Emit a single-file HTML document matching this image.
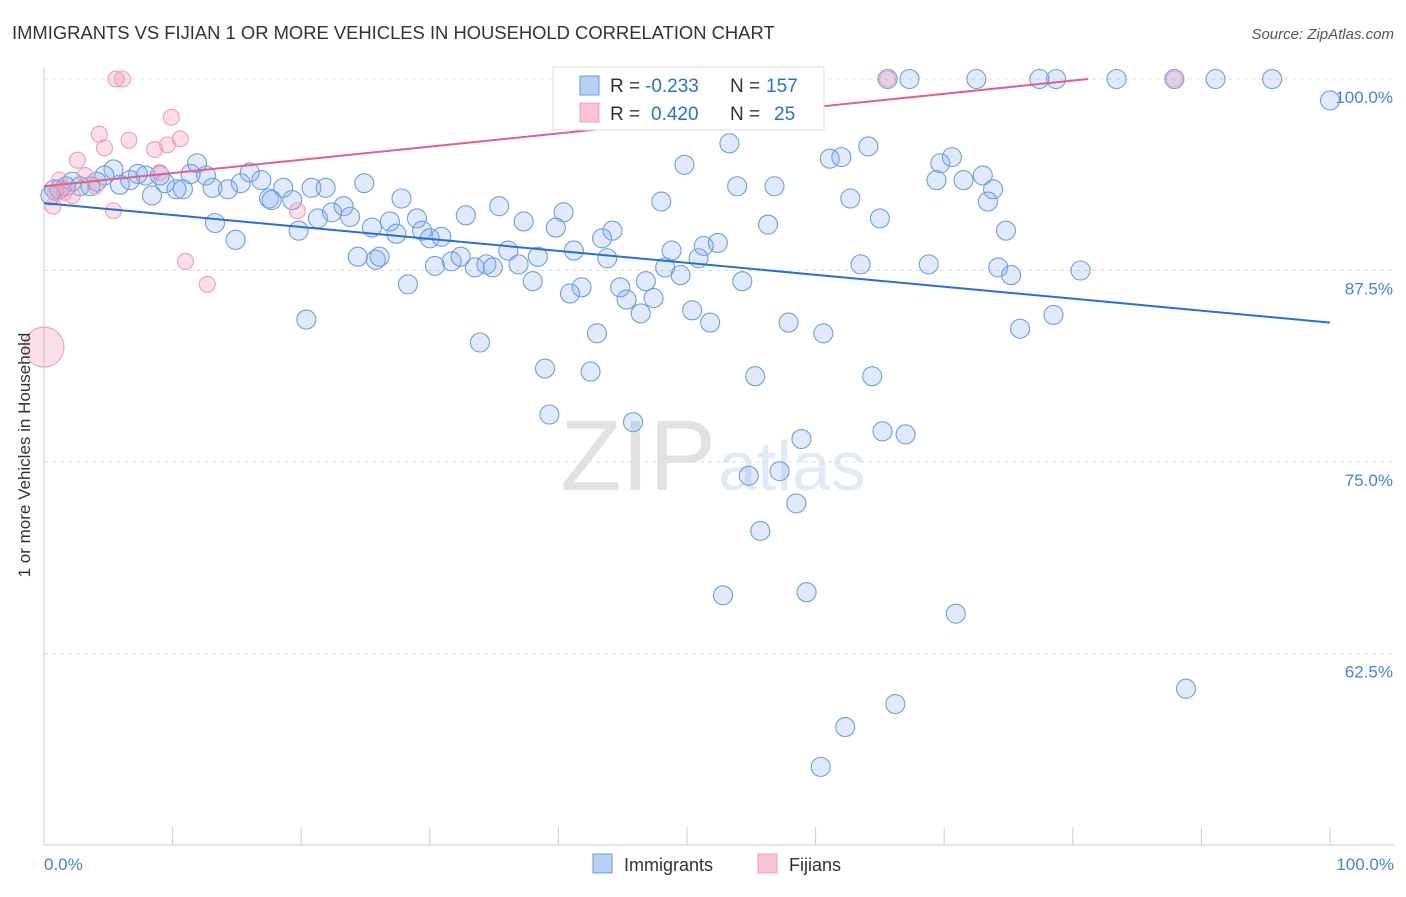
<!DOCTYPE html>
<html><head><meta charset="utf-8">
<style>
body{margin:0;background:#fff;font-family:"Liberation Sans",sans-serif;}
svg text{font-family:"Liberation Sans",sans-serif;}
</style></head>
<body>
<svg width="1406" height="892" viewBox="0 0 1406 892">
<text x="12" y="39" font-size="18.4" fill="#333">IMMIGRANTS VS FIJIAN 1 OR MORE VEHICLES IN HOUSEHOLD CORRELATION CHART</text>
<text x="1394" y="39" font-size="15" fill="#555" font-style="italic" text-anchor="end">Source: ZipAtlas.com</text>
<text x="716" y="490" font-size="100" fill="#e2e2e2" text-anchor="end" font-family="Liberation Serif">ZIP</text>
<text x="718" y="490" font-size="70" fill="#e2eaf6">atlas</text>
<g id="grid"></g>
<g id="axes"></g>
<g id="marks"></g>
<g id="lines"></g>
<text transform="translate(30,455) rotate(-90)" font-size="17" fill="#333" text-anchor="middle">1 or more Vehicles in Household</text>
<text x="44" y="870" font-size="17" fill="#4a7fd8">0.0%</text>
<text x="1394" y="870" font-size="17" fill="#4a7fd8" text-anchor="end">100.0%</text>
<g>
<rect x="553" y="67" width="271" height="63" fill="#fff" stroke="#ddd"/>
<rect x="580" y="76" width="19" height="19" fill="#b8d0f5" stroke="#6a9be0"/>
<rect x="580" y="103" width="19" height="19" fill="#f8c4d4" stroke="#f0a0b8"/>
<text x="610" y="92" font-size="19" fill="#333">R =</text>
<text x="645" y="92" font-size="19" fill="#2b6fd6">-0.233</text>
<text x="730" y="92" font-size="19" fill="#333">N =</text>
<text x="766" y="92" font-size="19" fill="#2b6fd6">157</text>
<text x="610" y="120" font-size="19" fill="#333">R =</text>
<text x="651" y="120" font-size="19" fill="#2b6fd6">0.420</text>
<text x="730" y="120" font-size="19" fill="#333">N =</text>
<text x="774" y="120" font-size="19" fill="#2b6fd6">25</text>
</g>
<g>
<rect x="593" y="854" width="19" height="19" fill="#b8d0f5" stroke="#6a9be0"/>
<text x="624" y="871" font-size="18" fill="#333">Immigrants</text>
<rect x="758" y="854" width="19" height="19" fill="#f8c4d4" stroke="#f0a0b8"/>
<text x="789" y="871" font-size="18" fill="#333">Fijians</text>
</g>
</svg>
<script>
const yTicks=[100,87.5,75,62.5];
const yTickLabels=["100.0%","87.5%","75.0%","62.5%"];
const xTicks=[0,10,20,30,40,50,60,70,80,90,100];
const blueX=[100,95.5,91.1,87.9,83.4,78.7,77.4,72.5,67.3,65.6,53.3,49.8,53.9,56.8,61.1,62.0,64.1,62.7,65.0,69.7,70.6,69.4,71.5,73.0,73.8,73.4,74.8,48.0,56.3,35.4,40.4,32.8,37.3,39.8,44.2,43.4,41.2,36.1,38.4,43.8,48.8,51.3,52.4,50.9,48.3,49.5,46.8,54.3,63.5,68.8,74.2,75.2,80.6,75.9,78.5,44.8,41.8,40.9,45.3,47.4,46.4,50.4,51.8,57.9,60.6,43.0,33.9,38.96,42.5,55.3,64.4,39.3,45.8,58.9,65.2,67.0,54.8,57.2,58.5,55.7,52.8,59.3,70.9,88.8,66.2,62.3,60.4,20.4,14.9,13.3,19.8,21.3,22.4,23.3,23.8,25.5,26.9,27.4,29.0,29.4,30.0,30.9,27.8,24.4,25.8,26.1,28.3,30.4,31.7,32.4,33.5,34.4,34.9,36.9,38.0,24.9,21.9,20.8,19.3,18.6,17.5,17.7,16.9,16.0,15.3,14.3,13.1,12.6,11.9,11.4,10.8,10.3,9.4,9.0,8.4,7.9,7.3,6.7,5.9,5.4,4.7,4.1,3.6,2.8,2.2,1.7,1.2,0.8,0.5];
const blueY=[98.6,100,100,100,100,100,100,100,100,100,95.8,94.4,93.0,93.0,94.8,94.9,95.6,92.2,90.9,94.5,94.9,93.4,93.4,93.7,92.8,92.0,90.1,92.0,90.5,91.7,91.3,91.1,90.7,90.3,90.1,89.6,88.8,88.8,88.4,88.3,88.8,89.1,89.3,88.3,87.7,87.2,86.8,86.8,87.9,87.9,87.7,87.2,87.5,83.7,84.6,86.4,86.4,86.0,85.6,85.7,84.7,84.9,84.1,84.1,83.4,83.4,82.8,81.1,80.9,80.6,80.6,78.1,77.6,76.5,77.0,76.8,74.1,74.4,72.3,70.5,66.3,66.5,65.1,60.2,59.2,57.7,55.1,84.3,89.5,90.6,90.1,90.9,91.3,91.7,91.0,90.3,90.7,89.9,90.9,90.1,89.6,89.7,92.2,88.4,88.2,88.4,86.6,87.8,88.1,88.4,87.7,87.9,87.7,87.9,86.8,93.2,92.9,92.9,92.1,92.9,92.2,92.1,93.4,93.9,93.2,92.8,92.9,93.7,94.5,93.8,92.8,92.8,93.2,93.7,92.4,93.7,93.8,93.4,93.1,94.1,93.7,93.3,93.0,93.0,93.3,93.0,92.8,92.8,92.4];
const pinkX=[0,5.6,6.1,65.6,87.9,9.9,4.3,6.6,10.6,4.7,8.6,9.6,2.6,9.0,3.2,3.97,1.6,2.2,0.9,0.7,5.4,19.7,11.0,12.7,1.2];
const pinkY=[82.5,100,100,100,100,97.5,96.4,96.0,96.1,95.5,95.4,95.7,94.7,93.9,93.7,93.0,92.6,92.4,92.6,91.7,91.4,91.4,88.1,86.6,93.4];
const blueTrend=[[0,91.9],[100,84.1]];
const pinkTrend=[[0,93.0],[81.2,100]];
const NS="http://www.w3.org/2000/svg";
const xs=v=>44+v*12.86;
const ys=v=>79+(100-v)*15.32;
function mk(tag,attrs,parent){const e=document.createElementNS(NS,tag);for(const k in attrs)e.setAttribute(k,attrs[k]);parent.appendChild(e);return e;}
const grid=document.getElementById('grid'),axes=document.getElementById('axes'),marks=document.getElementById('marks'),lines=document.getElementById('lines');
yTicks.forEach((t,i)=>{
 const l=mk('line',{x1:44,x2:1394,y1:ys(t),y2:ys(t),stroke:'#ddd','stroke-dasharray':'4,4'},grid);
 
 
 const tx=mk('text',{x:1393,y:ys(t)+24,'font-size':17,fill:'#4a7fd8','text-anchor':'end'},grid);
 tx.textContent=yTickLabels[i];
 
 
});
const xa=mk('line',{x1:44,x2:1394,y1:845,y2:845,stroke:'#ccc'},axes);


const ya=mk('line',{x1:44,x2:44,y1:68,y2:845,stroke:'#ccc'},axes);


xTicks.forEach(t=>{
 const l=mk('line',{x1:xs(t),x2:xs(t),y1:827,y2:845,stroke:'#ccc'},axes);
 
 
});
blueX.forEach((x,i)=>{
 const c=mk('circle',{cx:xs(x),cy:ys(blueY[i]),r:9.5,fill:'rgba(130,170,235,0.25)',stroke:'#6f9fe2','stroke-width':1.1},marks);
 
 
});
pinkX.forEach((x,i)=>{
 const c=mk('circle',{cx:xs(x),cy:ys(pinkY[i]),r:i===0?20:8,fill:'rgba(240,150,180,0.3)',stroke:'#f0a0b8','stroke-width':1.1},marks);
 
 
});
const bl=mk('line',{x1:xs(blueTrend[0][0]),y1:ys(blueTrend[0][1]),x2:xs(blueTrend[1][0]),y2:ys(blueTrend[1][1]),stroke:'#2b6fd6','stroke-width':2},lines);


const pl=mk('line',{x1:xs(pinkTrend[0][0]),y1:ys(pinkTrend[0][1]),x2:xs(pinkTrend[1][0]),y2:ys(pinkTrend[1][1]),stroke:'#e06090','stroke-width':2},lines);


</script>
</body></html>
